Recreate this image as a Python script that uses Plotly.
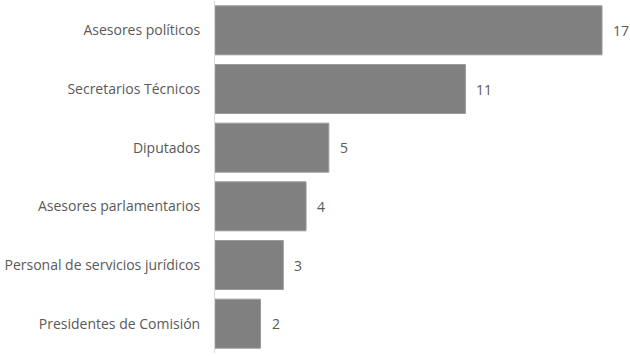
import plotly.graph_objects as go

categories = ["Asesores políticos", "Secretarios Técnicos", "Diputados",
              "Asesores parlamentarios", "Personal de servicios jurídicos",
              "Presidentes de Comisión"]
values = [17, 11, 5, 4, 3, 2]

font = dict(family="Open Sans, sans-serif", size=14, color="#595959")

fig = go.Figure(go.Bar(
    x=values, y=categories, orientation="h",
    marker=dict(color="#808080", line=dict(color="#9a9a9a", width=1)),
    hoverinfo="skip",
))

for v, c in zip(values, categories):
    fig.add_annotation(x=v, y=c, text=str(v), showarrow=False,
                       xanchor="left", xshift=9, font=font)

fig.update_layout(
    width=630, height=356,
    margin=dict(l=215, r=15, t=1, b=3),
    paper_bgcolor="white", plot_bgcolor="white",
    bargap=0.165, showlegend=False, font=font,
    xaxis=dict(range=[0, 17.57], visible=False, fixedrange=True,
               automargin=False),
    yaxis=dict(autorange="reversed", showline=True, linecolor="#d9d9d9",
               linewidth=1, ticks="", ticklabelstandoff=11, tickfont=font,
               showgrid=False, fixedrange=True, automargin=False),
)

fig.write_html("out.html", config={"displayModeBar": False},
               post_script="document.body.style.margin='0';")
